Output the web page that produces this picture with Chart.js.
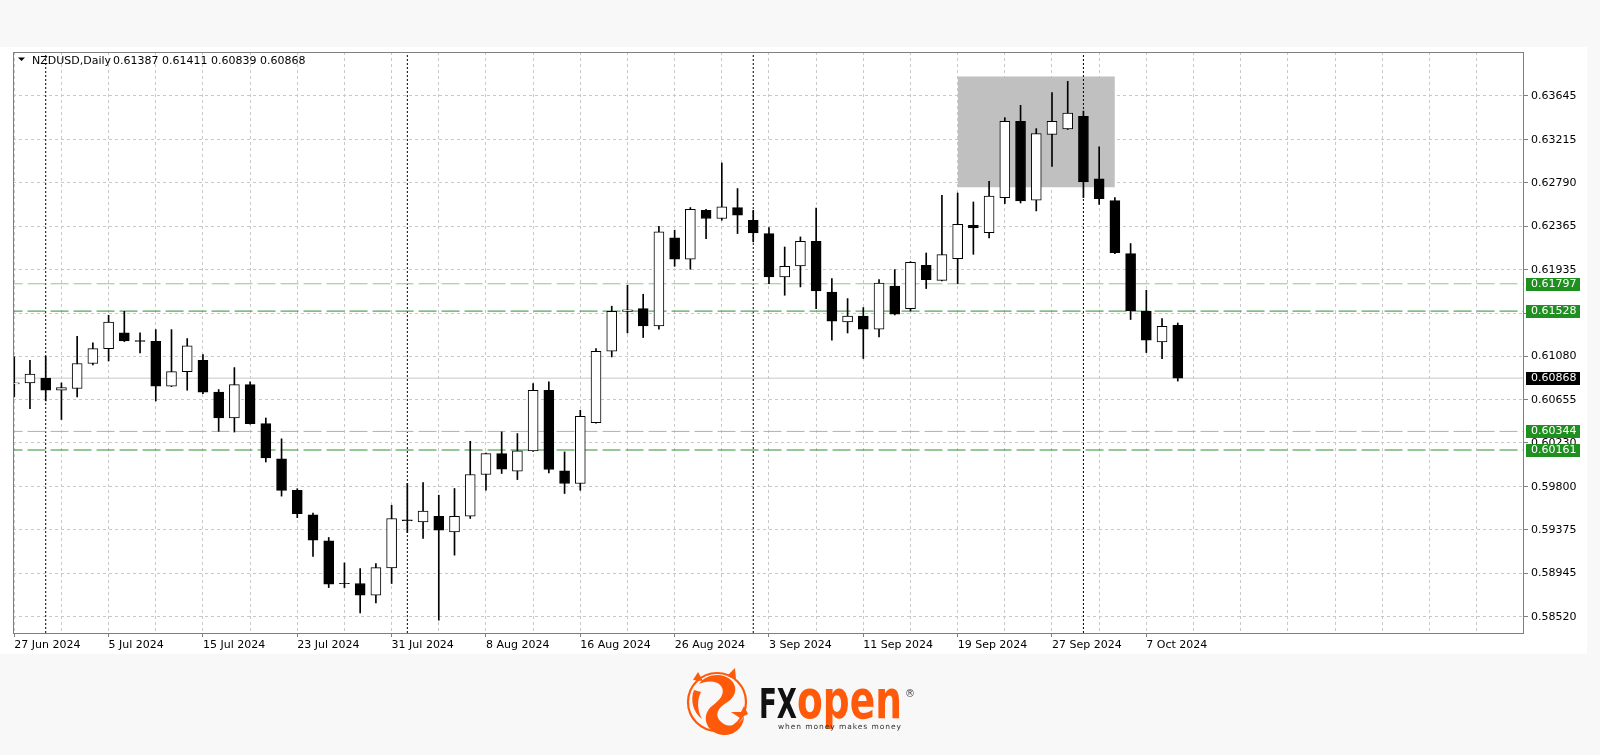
<!DOCTYPE html>
<html>
<head>
<meta charset="utf-8">
<title>NZDUSD Daily</title>
<script src="https://cdn.jsdelivr.net/npm/chart.js@4.4.1/dist/chart.umd.min.js"></script>
<style>
    html, body { margin: 0; padding: 0; background: #f8f8f8; }
    #wrap { position: relative; width: 1600px; height: 755px; }
    #chart { position: absolute; left: 0; top: 0; }
    #logo { position: absolute; left: 0; top: 0; }
</style>
</head>
<body>
<div id="wrap">
    <canvas id="chart" width="1600" height="755"></canvas>
    <svg id="logo" width="1600" height="755" xmlns="http://www.w3.org/2000/svg">
        <!-- FXopen logo -->
        <circle cx="717" cy="702" r="29" fill="none" stroke="#ff5a0a" stroke-width="2.2"/>
        <path d="M699 684 C706 674 722 672 731 680 C739 688 735 698 726 703 C716 709 714 718 724 724 C731 728 741 724 744 716 C744 730 730 738 718 734 C704 729 702 714 712 706 C720 700 726 693 721 686 C716 680 706 681 699 684 Z" fill="#ff5a0a"/>
        <path d="M693 680 L698 672 L703 681 Z M727 676 L735 668 L736 679 Z" fill="#ff5a0a"/>
        <path d="M694 690 C690 700 693 712 702 719 C697 710 697 700 701 692 Z" fill="#ff5a0a"/>
        <path d="M731 712 L741 712 L744 706 L748 714 L740 718 Z" fill="#ff5a0a"/>
        <text x="759" y="718" font-family="DejaVu Sans" font-weight="bold" font-size="41" fill="#111" textLength="38" lengthAdjust="spacingAndGlyphs">FX</text>
        <text x="797" y="718" font-family="DejaVu Sans" font-weight="bold" font-size="53" fill="#ff5a0a" textLength="105" lengthAdjust="spacingAndGlyphs">open</text>
        <text x="905" y="697" font-family="DejaVu Sans" font-size="10" fill="#444">®</text>
        <text x="778" y="729" font-family="DejaVu Sans" font-size="7.5" fill="#333" textLength="123" lengthAdjust="spacing">when money  makes money</text>
    </svg>
</div>
<script>
// NZDUSD daily candles, 27 Jun 2024 .. 9 Oct 2024 (bar index 0..74)
const opens = [
    0.60812, 0.60821, 0.60870, 0.60749, 0.60766, 0.61012, 0.61159, 0.61315, 0.61238, 0.61231,
    0.60789, 0.60933, 0.61044, 0.60732, 0.60476, 0.60805, 0.60421, 0.60075, 0.59763, 0.59524,
    0.59266, 0.58850, 0.58847, 0.58732, 0.59000, 0.59475, 0.59453, 0.59509, 0.59355, 0.59509,
    0.59920, 0.60126, 0.59952, 0.60152, 0.60749, 0.59955, 0.59831, 0.60431, 0.61133, 0.61526,
    0.61553, 0.61382, 0.62248, 0.62038, 0.62520, 0.62439, 0.62547, 0.62422, 0.62291, 0.61864,
    0.61972, 0.62215, 0.61716, 0.61421, 0.61480, 0.61349, 0.61775, 0.61553, 0.61979, 0.61831,
    0.62045, 0.62373, 0.62301, 0.62645, 0.63396, 0.62619, 0.63268, 0.63321, 0.63445, 0.62831,
    0.62615, 0.62094, 0.61526, 0.61224, 0.61387
];
const highs = [
    0.61078, 0.61044, 0.61084, 0.60821, 0.61280, 0.61215, 0.61487, 0.61526, 0.61313, 0.61346,
    0.61346, 0.61258, 0.61100, 0.60756, 0.60972, 0.60831, 0.60476, 0.60271, 0.59780, 0.59540,
    0.59300, 0.59050, 0.58995, 0.59044, 0.59617, 0.59831, 0.59841, 0.59716, 0.59782, 0.60247,
    0.60130, 0.60339, 0.60323, 0.60815, 0.60831, 0.60142, 0.60552, 0.61159, 0.61576, 0.61782,
    0.61694, 0.62363, 0.62324, 0.62547, 0.62530, 0.62986, 0.62734, 0.62520, 0.62350, 0.62159,
    0.62258, 0.62543, 0.61848, 0.61651, 0.61563, 0.61838, 0.61937, 0.62015, 0.62100, 0.62668,
    0.62690, 0.62602, 0.62806, 0.63432, 0.63553, 0.63324, 0.63678, 0.63789, 0.63497, 0.63144,
    0.62645, 0.62193, 0.61733, 0.61455, 0.61411
];
const lows = [
    0.60684, 0.60569, 0.60644, 0.60461, 0.60683, 0.60998, 0.61037, 0.61228, 0.61116, 0.60644,
    0.60785, 0.60749, 0.60716, 0.60345, 0.60338, 0.60415, 0.60043, 0.59707, 0.59495, 0.59114,
    0.58807, 0.58807, 0.58558, 0.58656, 0.58847, 0.59350, 0.59290, 0.58486, 0.59126, 0.59487,
    0.59765, 0.59930, 0.59870, 0.60148, 0.59935, 0.59733, 0.59765, 0.60425, 0.61077, 0.61313,
    0.61268, 0.61349, 0.61969, 0.61940, 0.62242, 0.62422, 0.62291, 0.62209, 0.61799, 0.61684,
    0.61766, 0.61551, 0.61241, 0.61313, 0.61061, 0.61274, 0.61490, 0.61529, 0.61750, 0.61825,
    0.61799, 0.62087, 0.62248, 0.62586, 0.62592, 0.62514, 0.62953, 0.63315, 0.62645, 0.62578,
    0.62094, 0.61445, 0.61120, 0.61061, 0.60839
];
const closes = [
    0.60822, 0.60907, 0.60749, 0.60776, 0.61012, 0.61159, 0.61421, 0.61234, 0.61230, 0.60789,
    0.60933, 0.61185, 0.60729, 0.60476, 0.60805, 0.60421, 0.60083, 0.59763, 0.59534, 0.59273,
    0.58840, 0.58845, 0.58732, 0.59004, 0.59487, 0.59465, 0.59561, 0.59372, 0.59509, 0.59920,
    0.60126, 0.59972, 0.60152, 0.60749, 0.59969, 0.59831, 0.60493, 0.61133, 0.61526, 0.61540,
    0.61382, 0.62307, 0.62038, 0.62530, 0.62439, 0.62553, 0.62471, 0.62297, 0.61864, 0.61969,
    0.62215, 0.61726, 0.61428, 0.61480, 0.61349, 0.61805, 0.61497, 0.62009, 0.61838, 0.62084,
    0.62382, 0.62346, 0.62661, 0.63396, 0.62612, 0.63275, 0.63396, 0.63478, 0.62799, 0.62635,
    0.62104, 0.61529, 0.61241, 0.61379, 0.60868
];

// date labels every 6 bars
const xLabelBars = [0, 6, 12, 18, 24, 30, 36, 42, 48, 54, 60, 66, 72];
const xLabels = ['27 Jun 2024', '5 Jul 2024', '15 Jul 2024', '23 Jul 2024', '31 Jul 2024', '8 Aug 2024',
    '16 Aug 2024', '26 Aug 2024', '3 Sep 2024', '11 Sep 2024', '19 Sep 2024', '27 Sep 2024', '7 Oct 2024'];

// price axis
const yTicks = [0.58520, 0.58945, 0.59375, 0.59800, 0.60230, 0.60655, 0.61080, 0.61505,
    0.61935, 0.62365, 0.62790, 0.63215, 0.63645];

// horizontal levels (support / resistance)
const levels = [0.61797, 0.61528, 0.60344, 0.60161];
const levelColors = ['#8ec88e', '#2e8f2e', '#8ec88e', '#2e8f2e'];
const lastPrice = 0.60868;

// month separators (bar index)
const separators = [2, 25, 47, 68];

// highlighted zone
const zoneBars = [60, 70];
const zonePrices = [0.62747, 0.63836];

const symbolTitle = 'NZDUSD,Daily';

const X_MIN = -0.08, X_MAX = 96.02;
const Y_MIN = 0.58360, Y_MAX = 0.64078;

Chart.defaults.font.family = 'DejaVu Sans';
Chart.defaults.font.size = 11;
Chart.defaults.color = '#000';

const wickData = highs.map((h, i) => ({ x: i, y: [lows[i], h] }));
const bodyData = opens.map((o, i) => ({ x: i, y: [o, closes[i]] }));
const bodyColors = opens.map((o, i) => closes[i] >= o ? '#ffffff' : '#000000');

const datasets = [];

datasets.push({
    type: 'bar',
    data: bodyData,
    backgroundColor: bodyColors,
    borderColor: '#000',
    borderWidth: 1,
    borderSkipped: false,
    barThickness: 10,
    grouped: false,
    order: 0
});
datasets.push({
    type: 'bar',
    data: wickData,
    backgroundColor: '#000',
    borderWidth: 0,
    barThickness: 1,
    grouped: false,
    order: 1
});

levels.forEach((v, k) => {
    datasets.push({
        type: 'line',
        data: [{ x: X_MIN - 2, y: v }, { x: X_MAX + 2, y: v }],
        borderColor: levelColors[k],
        borderWidth: 1,
        borderDash: [18, 5],
        pointRadius: 0,
        fill: false,
        order: 2
    });
});

datasets.push({
    type: 'line',
    data: [{ x: X_MIN - 2, y: lastPrice }, { x: X_MAX + 2, y: lastPrice }],
    borderColor: '#c8c8c8',
    borderWidth: 1,
    pointRadius: 0,
    fill: false,
    order: 3
});

separators.forEach(s => {
    datasets.push({
        type: 'line',
        data: [{ x: s, y: Y_MIN }, { x: s, y: Y_MAX }],
        borderColor: '#000',
        borderWidth: 1,
        borderDash: [2, 2],
        pointRadius: 0,
        fill: false,
        order: 4
    });
});

datasets.push({
    type: 'line',
    data: [{ x: zoneBars[0], y: zonePrices[1] }, { x: zoneBars[1], y: zonePrices[1] }],
    borderWidth: 0,
    borderColor: 'rgba(0,0,0,0)',
    backgroundColor: '#c0c0c0',
    pointRadius: 0,
    fill: { value: zonePrices[0] },
    order: 5
});

// white panel + frame + title + price boxes
const decorPlugin = {
    id: 'decor',
    beforeDraw(chart) {
        const ctx = chart.ctx;
        ctx.save();
        ctx.fillStyle = '#f8f8f8';
        ctx.fillRect(0, 0, chart.width, chart.height);
        ctx.fillStyle = '#ffffff';
        ctx.fillRect(0, 47, 1587, 607);
        ctx.restore();
    },
    afterDraw(chart) {
        const ctx = chart.ctx;
        const area = chart.chartArea;
        const y = chart.scales.y;
        ctx.save();
        // frame
        ctx.strokeStyle = '#7f7f7f';
        ctx.lineWidth = 1;
        ctx.strokeRect(Math.round(area.left) + 0.5, Math.round(area.top) + 0.5,
            Math.round(area.right - area.left) - 1, Math.round(area.bottom - area.top));

        // title
        ctx.fillStyle = '#000';
        ctx.beginPath();
        ctx.moveTo(18, 57.5);
        ctx.lineTo(25, 57.5);
        ctx.lineTo(21.5, 61);
        ctx.closePath();
        ctx.fill();
        ctx.font = '11px "DejaVu Sans"';
        ctx.textBaseline = 'middle';
        ctx.textAlign = 'left';
        ctx.fillText(symbolTitle, 32, 61);
        const ohlc = [opens[74], highs[74], lows[74], closes[74]].map(v => v.toFixed(5)).join(' ');
        ctx.fillText(ohlc, 113, 61);

        // price boxes on the axis
        const drawBox = (v, bg) => {
            const py = Math.round(y.getPixelForValue(v));
            ctx.fillStyle = bg;
            ctx.fillRect(1526, py - 6, 54, 13);
            ctx.fillStyle = '#fff';
            ctx.fillText(v.toFixed(5), 1531, py + 0.5);
        };
        levels.forEach((v, k) => drawBox(v, '#1f8f1f'));
        drawBox(lastPrice, '#000');
        ctx.restore();
    }
};

new Chart(document.getElementById('chart'), {
    data: { datasets: datasets },
    options: {
        responsive: false,
        animation: false,
        events: [],
        layout: { padding: { left: 13, top: 52, right: 0, bottom: 0 } },
        plugins: {
            legend: { display: false },
            tooltip: { enabled: false }
        },
        scales: {
            x: {
                type: 'linear',
                offset: false,
                min: X_MIN,
                max: X_MAX,
                afterFit: (scale) => { scale.height = 122; },
                afterBuildTicks: (scale) => {
                    const t = [];
                    for (let i = 0; i <= 96; i += 3) t.push({ value: i });
                    scale.ticks = t;
                },
                grid: {
                    offset: false,
                    color: '#c8c8c8',
                    tickLength: 4,
                    tickColor: (c) => (c.tick && xLabelBars.indexOf(c.tick.value) >= 0) ? '#7f7f7f' : 'rgba(0,0,0,0)'
                },
                border: { display: false, dash: [3, 3] },
                ticks: {
                    autoSkip: false,
                    maxRotation: 0,
                    align: 'start',
                    padding: 2,
                    color: '#000',
                    callback: (value) => {
                        const k = xLabelBars.indexOf(value);
                        return k >= 0 ? xLabels[k] : '';
                    }
                }
            },
            y: {
                type: 'linear',
                position: 'right',
                min: Y_MIN,
                max: Y_MAX,
                afterFit: (scale) => { scale.width = 76; },
                afterBuildTicks: (scale) => {
                    scale.ticks = yTicks.map(v => ({ value: v }));
                },
                grid: {
                    color: '#c8c8c8',
                    tickLength: 4,
                    tickColor: '#7f7f7f'
                },
                border: { display: false, dash: [3, 3] },
                ticks: {
                    padding: 3,
                    color: '#000',
                    callback: (value) => Number(value).toFixed(5)
                }
            }
        }
    },
    plugins: [decorPlugin]
});
</script>
</body>
</html>
